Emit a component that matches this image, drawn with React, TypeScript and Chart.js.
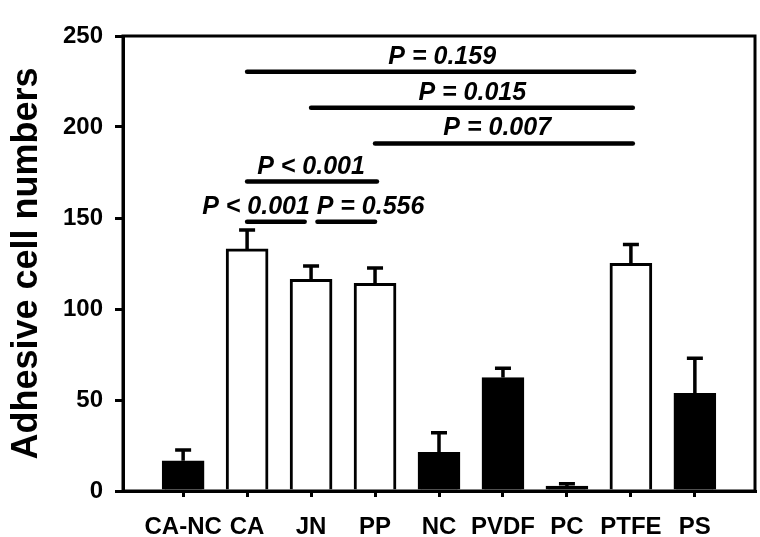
import React, { useEffect, useRef } from "react";
import { Chart, registerables } from "chart.js";

Chart.register(...registerables);

const categories = ["CA-NC", "CA", "JN", "PP", "NC", "PVDF", "PC", "PTFE", "PS"];
const means = [16.6, 133, 116.3, 114.1, 21.3, 62.3, 2.7, 125.1, 53.7];
const errors = [5.9, 10.4, 7.3, 8.4, 10.7, 5.1, 1.3, 10.4, 19.2];
const filled = [true, false, false, false, true, true, true, false, true];
const yTicks = [0, 50, 100, 150, 200, 250];

const sigStart = [1, 2, 3, 1, 1, 2.1];
const sigEnd = [7.05, 7.03, 7.03, 3.03, 1.9, 3.0];
const sigLevel = [230.4, 210.6, 191, 170, 148, 148];
const sigText = ["P = 0.159", "P = 0.015", "P = 0.007", "P < 0.001", "P < 0.001", "P = 0.556"];
const sigTextAt = [4.05, 4.52, 4.91, 2.0, 1.14, 2.93];

const FONT = "'Liberation Sans', Arial, sans-serif";

const annotPlugin = {
  id: "annot",
  afterDatasetsDraw(chart: any) {
    const ctx = chart.ctx;
    const x = chart.scales.x;
    const y = chart.scales.y;
    const area = chart.chartArea;
    ctx.save();
    ctx.strokeStyle = "#000";
    ctx.fillStyle = "#000";
    ctx.lineWidth = 3.5;
    ctx.lineCap = "butt";
    means.forEach((m, i) => {
      const px = x.getPixelForValue(i);
      const top = y.getPixelForValue(m);
      const cap = y.getPixelForValue(m + errors[i]);
      ctx.beginPath();
      ctx.moveTo(px, top);
      ctx.lineTo(px, cap);
      ctx.moveTo(px - 8, cap);
      ctx.lineTo(px + 8, cap);
      ctx.stroke();
    });
    ctx.lineWidth = 4.5;
    ctx.lineCap = "round";
    ctx.font = `italic bold 25px ${FONT}`;
    ctx.textAlign = "center";
    ctx.textBaseline = "alphabetic";
    sigLevel.forEach((lv, i) => {
      const py = y.getPixelForValue(lv);
      ctx.beginPath();
      ctx.moveTo(x.getPixelForValue(sigStart[i]), py);
      ctx.lineTo(x.getPixelForValue(sigEnd[i]), py);
      ctx.stroke();
      ctx.fillText(sigText[i], x.getPixelForValue(sigTextAt[i]), py - 8);
    });
    ctx.lineWidth = 3;
    ctx.lineCap = "butt";
    ctx.strokeRect(area.left, area.top, area.right - area.left, area.bottom - area.top);
    ctx.restore();
  },
};

export default function App() {
  const ref = useRef<HTMLCanvasElement>(null);
  useEffect(() => {
    document.body.style.margin = "0";
    const chart = new Chart(ref.current as HTMLCanvasElement, {
      type: "bar",
      data: {
        datasets: [
          {
            data: means.map((m, i) => ({ x: i, y: m })),
            backgroundColor: filled.map((f) => (f ? "#000" : "#fff")),
            borderColor: "#000",
            borderWidth: 3,
            barThickness: 42,
          } as any,
        ],
      },
      options: {
        animation: false,
        responsive: false,
        maintainAspectRatio: false,
        layout: { padding: { top: 36, right: 5, left: 0, bottom: 0 } },
        plugins: { legend: { display: false }, tooltip: { enabled: false } },
        scales: {
          x: {
            type: "linear",
            offset: false,
            min: -0.94,
            max: 8.94,
            afterBuildTicks: (scale: any) => {
              scale.ticks = categories.map((_, i) => ({ value: i }));
            },
            afterFit: (scale: any) => {
              scale.height = 46;
            },
            ticks: {
              autoSkip: false,
              maxRotation: 0,
              padding: 16,
              color: "#000",
              font: { family: FONT, size: 24, weight: "bold" },
              callback: (v: any) => categories[Math.round(Number(v))] ?? "",
            },
            grid: { display: true, offset: false, drawOnChartArea: false, drawTicks: true, tickLength: 6, color: "#000", lineWidth: 3 },
            border: { display: true, color: "#000", width: 3 },
          },
          y: {
            min: 0,
            max: 250,
            afterBuildTicks: (scale: any) => {
              scale.ticks = yTicks.map((v) => ({ value: v }));
            },
            afterFit: (scale: any) => {
              scale.width = 123;
            },
            ticks: {
              padding: 12,
              color: "#000",
              font: { family: FONT, size: 24, weight: "bold" },
            },
            title: {
              display: true,
              text: "Adhesive cell numbers",
              color: "#000",
              font: { family: FONT, size: 36, weight: "bold" },
              padding: { top: 5, bottom: 0 },
            },
            grid: { display: true, drawOnChartArea: false, drawTicks: true, tickLength: 8, color: "#000", lineWidth: 3 },
            border: { display: true, color: "#000", width: 3 },
          },
        },
      },
      plugins: [annotPlugin],
    } as any);
    return () => chart.destroy();
  }, []);
  return (
    <div style={{ width: 760, height: 537 }}>
      <canvas ref={ref} width={760} height={537} style={{ display: "block" }} />
    </div>
  );
}
